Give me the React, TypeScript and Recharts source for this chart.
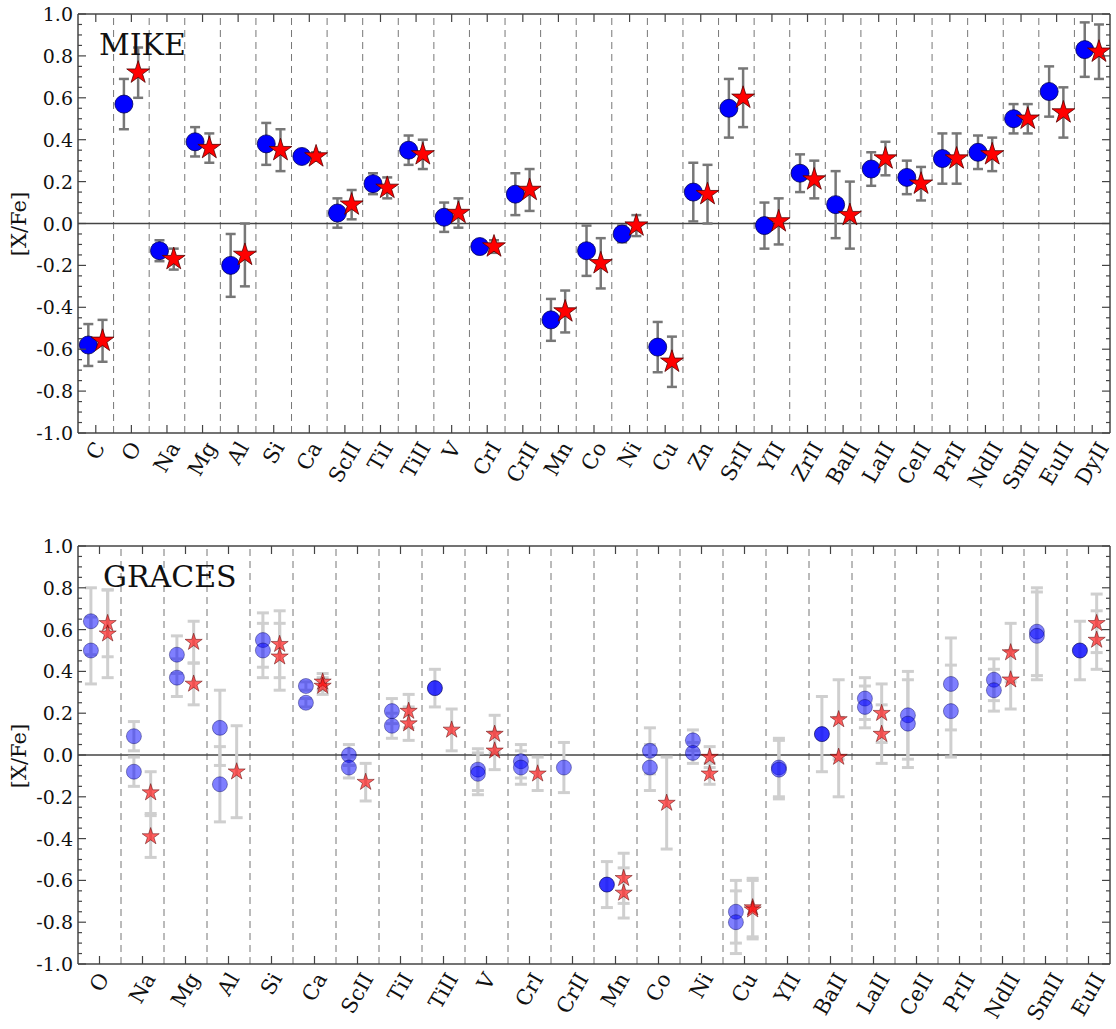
import React from 'react'
import { ScatterChart, Scatter, XAxis, YAxis, ErrorBar, ReferenceLine } from 'recharts'

// MIKE panel: one circle and one star per element
const mikeElements = ['C', 'O', 'Na', 'Mg', 'Al', 'Si', 'Ca', 'ScII', 'TiI', 'TiII', 'V', 'CrI', 'CrII', 'Mn', 'Co', 'Ni', 'Cu', 'Zn', 'SrII', 'YII', 'ZrII', 'BaII', 'LaII', 'CeII', 'PrII', 'NdII', 'SmII', 'EuII', 'DyII']
const mikeCircle = [-0.58, 0.57, -0.13, 0.39, -0.2, 0.38, 0.32, 0.05, 0.19, 0.35, 0.03, -0.11, 0.14, -0.46, -0.13, -0.05, -0.59, 0.15, 0.55, -0.01, 0.24, 0.09, 0.26, 0.22, 0.31, 0.34, 0.5, 0.63, 0.83]
const mikeCircleErr = [0.1, 0.12, 0.05, 0.07, 0.15, 0.1, 0.02, 0.07, 0.05, 0.07, 0.07, 0.02, 0.1, 0.1, 0.12, 0.04, 0.12, 0.14, 0.14, 0.11, 0.09, 0.16, 0.08, 0.08, 0.12, 0.08, 0.07, 0.12, 0.13]
const mikeStar = [-0.56, 0.72, -0.17, 0.36, -0.15, 0.35, 0.32, 0.09, 0.17, 0.33, 0.05, -0.11, 0.16, -0.42, -0.19, -0.01, -0.66, 0.14, 0.6, 0.01, 0.21, 0.04, 0.31, 0.19, 0.31, 0.33, 0.5, 0.53, 0.82]
const mikeStarErr = [0.1, 0.12, 0.05, 0.07, 0.15, 0.1, 0.02, 0.07, 0.05, 0.07, 0.07, 0.03, 0.1, 0.1, 0.12, 0.05, 0.12, 0.14, 0.14, 0.11, 0.09, 0.16, 0.08, 0.08, 0.12, 0.08, 0.07, 0.12, 0.13]

// GRACES panel: up to two measurements per element
const gracesElements = ['O', 'Na', 'Mg', 'Al', 'Si', 'Ca', 'ScII', 'TiI', 'TiII', 'V', 'CrI', 'CrII', 'Mn', 'Co', 'Ni', 'Cu', 'YII', 'BaII', 'LaII', 'CeII', 'PrII', 'NdII', 'SmII', 'EuII']
const gracesCircle = [[0.64, 0.5], [0.09, -0.08], [0.48, 0.37], [0.13, -0.14], [0.55, 0.5], [0.33, 0.25], [0.0, -0.06], [0.21, 0.14], [0.32], [-0.07, -0.09], [-0.03, -0.06], [-0.06], [-0.62], [0.02, -0.06], [0.07, 0.01], [-0.75, -0.8], [-0.06, -0.07], [0.1], [0.27, 0.23], [0.19, 0.15], [0.34, 0.21], [0.36, 0.31], [0.59, 0.57], [0.5]]
const gracesCircleErr = [[0.16, 0.16], [0.07, 0.07], [0.09, 0.09], [0.18, 0.18], [0.13, 0.13], [0.02, 0.02], [0.05, 0.05], [0.06, 0.06], [0.09], [0.1, 0.1], [0.08, 0.08], [0.12], [0.11], [0.11, 0.11], [0.05, 0.05], [0.15, 0.15], [0.14, 0.14], [0.18], [0.1, 0.1], [0.21, 0.21], [0.22, 0.22], [0.1, 0.1], [0.21, 0.21], [0.14]]
const gracesStar = [[0.63, 0.58], [-0.18, -0.39], [0.54, 0.34], [-0.08], [0.53, 0.47], [0.35, 0.33], [-0.13], [0.21, 0.15], [0.12], [0.1, 0.02], [-0.09], [], [-0.59, -0.66], [-0.23], [-0.01, -0.09], [-0.73, -0.74], [], [0.17, -0.01], [0.2, 0.1], [], [], [0.49, 0.36], [], [0.63, 0.55]]
const gracesStarErr = [[0.16, 0.21], [0.1, 0.1], [0.1, 0.1], [0.22], [0.16, 0.16], [0.04, 0.04], [0.09], [0.08, 0.08], [0.1], [0.09, 0.09], [0.08], [], [0.12, 0.12], [0.22], [0.05, 0.05], [0.14, 0.14], [], [0.19, 0.19], [0.14, 0.14], [], [], [0.14, 0.14], [], [0.14, 0.14]]
const gracesSolid = ['TiII', 'Mn', 'BaII', 'EuII']

const yTicks = [-1.0, -0.95, -0.9, -0.85, -0.8, -0.75, -0.7, -0.65, -0.6, -0.55, -0.5, -0.45, -0.4, -0.35, -0.3, -0.25, -0.2, -0.15, -0.1, -0.05, 0, 0.05, 0.1, 0.15, 0.2, 0.25, 0.3, 0.35, 0.4, 0.45, 0.5, 0.55, 0.6, 0.65, 0.7, 0.75, 0.8, 0.85, 0.9, 0.95, 1.0]

const W = 1116
const PLOT_LEFT = 78
const PLOT_RIGHT = 1110
const FONT = '"DejaVu Serif", serif'
const AXIS = '#444'
const XLABEL_SIZE = 21

const ctx = typeof document !== 'undefined' ? document.createElement('canvas').getContext('2d') : null
function measure(s: string, size: number) {
  if (!ctx) return s.length * size * 0.6
  ctx.font = `${size}px "DejaVu Serif"`
  return ctx.measureText(s).width
}

const isMajor = (v: number) => Math.abs(v * 5 - Math.round(v * 5)) < 1e-6

type Pt = { x: number; y: number; err: number; op: number }

function starPoints(cx: number, cy: number, R: number) {
  const pts: string[] = []
  for (let k = 0; k < 10; k++) {
    const a = (-90 + k * 36) * Math.PI / 180
    const r = k % 2 === 0 ? R : R * 0.382
    pts.push(`${cx + r * Math.cos(a)},${cy + r * Math.sin(a)}`)
  }
  return pts.join(' ')
}

interface PanelProps {
  names: string[]
  circles: Pt[]
  stars: Pt[]
  height: number
  plotTop: number
  plotBottom: number
  circleR: number
  starR: number
  errColor: string
  errWidth: number
  cap: number
}

function Panel({ names, circles, stars, height, plotTop, plotBottom, circleR, starR, errColor, errWidth, cap }: PanelProps) {
  const n = names.length
  const centers = names.map((_, i) => i + 0.5)
  const bounds = names.slice(1).map((_, i) => i + 1)

  const leftTick = (p: any) => {
    const v = p.payload.value
    const major = isMajor(v)
    return (
      <g>
        <line x1={PLOT_LEFT} x2={PLOT_LEFT + (major ? 8 : 4)} y1={p.y} y2={p.y} stroke={AXIS} strokeWidth={1.2} />
        {major && (
          <text x={PLOT_LEFT - 5} y={p.y} textAnchor="end" dominantBaseline="central" fontFamily={FONT} fontSize={19} fill="#111">
            {v.toFixed(1)}
          </text>
        )}
      </g>
    )
  }
  const rightTick = (p: any) => {
    const major = isMajor(p.payload.value)
    return <line x1={PLOT_RIGHT} x2={PLOT_RIGHT - (major ? 8 : 4)} y1={p.y} y2={p.y} stroke={AXIS} strokeWidth={1.2} />
  }
  const bottomTick = (p: any) => {
    const idx = Math.round(p.payload.value - 0.5)
    const name = names[idx] ?? ''
    const w = measure(name, XLABEL_SIZE)
    const bh = w * 0.866 + XLABEL_SIZE * 0.72 * 0.5
    const cy = plotBottom + 7 + bh / 2
    return (
      <g>
        <line x1={p.x} x2={p.x} y1={plotBottom} y2={plotBottom - 8} stroke={AXIS} strokeWidth={1.2} />
        <text x={p.x} y={cy} textAnchor="middle" dominantBaseline="central" fontFamily={FONT} fontSize={XLABEL_SIZE} fill="#111"
          transform={`rotate(-60 ${p.x} ${cy})`}>
          {name}
        </text>
      </g>
    )
  }
  const topTick = (p: any) => (
    <line x1={p.x} x2={p.x} y1={plotTop} y2={plotTop + 8} stroke={AXIS} strokeWidth={1.2} />
  )

  const circleShape = (p: any) => (
    <circle cx={p.cx} cy={p.cy} r={circleR} fill="#0000ff" fillOpacity={p.payload.op}
      stroke="#000055" strokeOpacity={p.payload.op} strokeWidth={0.8} />
  )
  const starShape = (p: any) => (
    <polygon points={starPoints(p.cx, p.cy, starR)} fill="#ff0000" fillOpacity={p.payload.op}
      stroke="#550000" strokeOpacity={p.payload.op} strokeWidth={0.8} strokeLinejoin="miter" />
  )

  const axisLine = { stroke: AXIS, strokeWidth: 1.5 }

  return (
    <ScatterChart width={W} height={height} margin={{ top: plotTop - 1, right: W - PLOT_RIGHT - 1, bottom: 0, left: 0 }}>
      <XAxis xAxisId="b" type="number" dataKey="x" domain={[0, n]} ticks={centers} interval={0} allowDataOverflow
        height={height - plotBottom} tickLine={false} axisLine={axisLine} tick={bottomTick} />
      <XAxis xAxisId="t" orientation="top" type="number" dataKey="x" domain={[0, n]} ticks={centers} interval={0} allowDataOverflow
        height={1} tickLine={false} axisLine={axisLine} tick={topTick} />
      <YAxis yAxisId="l" type="number" dataKey="y" domain={[-1, 1]} ticks={yTicks} interval={0} allowDataOverflow
        width={PLOT_LEFT} tickLine={false} axisLine={axisLine} tick={leftTick} />
      <YAxis yAxisId="r" orientation="right" type="number" dataKey="y" domain={[-1, 1]} ticks={yTicks} interval={0} allowDataOverflow
        width={1} tickLine={false} axisLine={axisLine} tick={rightTick} />
      {bounds.map(b => (
        <ReferenceLine key={b} xAxisId="b" yAxisId="l" x={b} stroke="#777" strokeWidth={1} strokeDasharray="7 5" />
      ))}
      <ReferenceLine xAxisId="b" yAxisId="l" y={0} stroke={AXIS} strokeWidth={1.5} />
      <Scatter xAxisId="b" yAxisId="l" data={circles} shape={circleShape} isAnimationActive={false}>
        <ErrorBar dataKey="err" direction="y" width={cap} stroke={errColor} strokeWidth={errWidth} isAnimationActive={false} />
      </Scatter>
      <Scatter xAxisId="b" yAxisId="l" data={stars} shape={starShape} isAnimationActive={false}>
        <ErrorBar dataKey="err" direction="y" width={cap} stroke={errColor} strokeWidth={errWidth} isAnimationActive={false} />
      </Scatter>
    </ScatterChart>
  )
}

const mikeCircles: Pt[] = mikeCircle.map((y, i) => ({ x: i + 0.29, y, err: mikeCircleErr[i], op: 1 }))
const mikeStars: Pt[] = mikeStar.map((y, i) => ({ x: i + 0.69, y, err: mikeStarErr[i], op: 1 }))

const gracesCircles: Pt[] = gracesCircle.flatMap((vals, i) =>
  vals.map((y, j) => ({ x: i + 0.3, y, err: gracesCircleErr[i][j], op: gracesSolid.includes(gracesElements[i]) ? 0.8 : 0.5 })))
const gracesStars: Pt[] = gracesStar.flatMap((vals, i) =>
  vals.map((y, j) => ({ x: i + 0.69, y, err: gracesStarErr[i][j], op: 0.62 })))

export default function App() {
  return (
    <div style={{ position: 'absolute', left: 0, top: 0, width: W, height: 1029, background: '#fff' }}>
      <div style={{ position: 'absolute', left: 0, top: 0 }}>
        <Panel names={mikeElements} circles={mikeCircles} stars={mikeStars} height={520} plotTop={14} plotBottom={433}
          circleR={9} starR={12} errColor="#777" errWidth={2.5} cap={5} />
      </div>
      <div style={{ position: 'absolute', left: 0, top: 530 }}>
        <Panel names={gracesElements} circles={gracesCircles} stars={gracesStars} height={499} plotTop={16} plotBottom={434}
          circleR={7.5} starR={9} errColor="#cfcfcf" errWidth={3} cap={6} />
      </div>
      <svg width={W} height={1029} style={{ position: 'absolute', left: 0, top: 0, pointerEvents: 'none' }}>
        <text x={99} y={55} fontFamily={FONT} fontSize={30} fill="#111">MIKE</text>
        <text x={103} y={587} fontFamily={FONT} fontSize={30} fill="#111">GRACES</text>
        <text x={19} y={224} fontFamily={FONT} fontSize={21} fill="#111" textAnchor="middle" dominantBaseline="central"
          transform="rotate(-90 19 224)">[X/Fe]</text>
        <text x={19} y={756} fontFamily={FONT} fontSize={21} fill="#111" textAnchor="middle" dominantBaseline="central"
          transform="rotate(-90 19 756)">[X/Fe]</text>
      </svg>
    </div>
  )
}
